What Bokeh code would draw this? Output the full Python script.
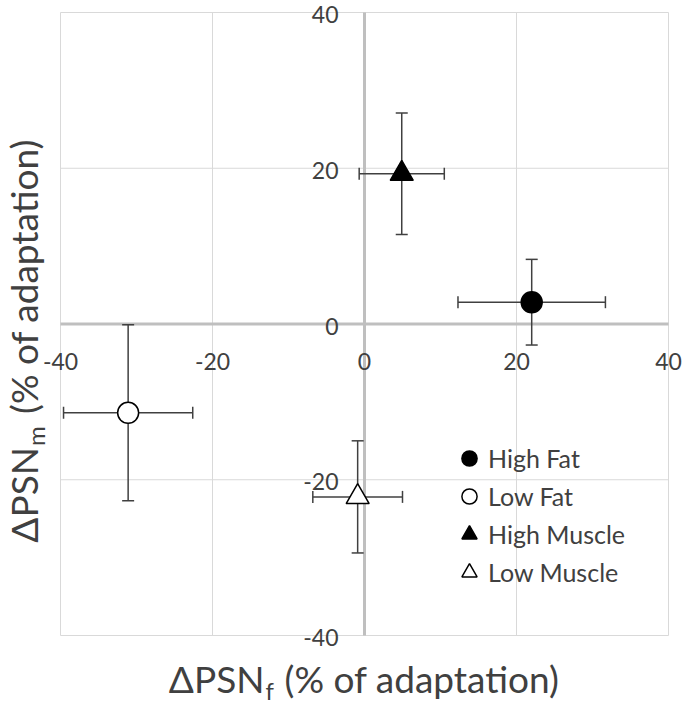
import math
from bokeh.plotting import figure
from bokeh.models import (ColumnDataSource, Whisker, TeeHead, LabelSet, Legend, LegendItem, Range1d)
from bokeh.core.properties import value
from bokeh.embed import file_html
from bokeh.resources import INLINE

# ---------------- data ----------------
groups = ["High Fat", "Low Fat", "High Muscle", "Low Muscle"]
x_vals = [22.0, -31.1, 4.9, -0.9]      # ΔPSN_f
x_errs = [9.7, 8.5, 5.6, 5.9]
y_vals = [2.8, -11.4, 19.3, -22.2]     # ΔPSN_m
y_errs = [5.5, 11.3, 7.8, 7.2]
markers = ["circle", "circle", "triangle", "triangle"]
fills = ["black", "white", "black", "white"]
x_ticks = [-40, -20, 0, 20, 40]
y_ticks = [-40, -20, 0, 20, 40]
x_title = ["ΔPSN", "f", "(% of adaptation)"]
y_title = ["ΔPSN", "m", "(% of adaptation)"]

FONT = "Lato"
TEXT = "#404040"
ERR = "#404040"
GRID = "#d9d9d9"
ZERO = "#bfbfbf"

# ---------------- layout (pixels) ----------------
W, H = 685, 709
PL, PR, PT, PB = 60, 668, 12, 635           # plot-area box in canvas pixels
LO, HI = x_ticks[0], x_ticks[-1]
LO_Y, HI_Y = y_ticks[0], y_ticks[-1]
kx = (PR - PL) / (HI - LO)
ky = (PB - PT) / (HI_Y - LO_Y)
x_range = Range1d(LO - PL / kx, HI + (W - PR) / kx)
y_range = Range1d(LO_Y - (H - PB) / ky, HI_Y + PT / ky)

p = figure(width=W, height=H, x_range=x_range, y_range=y_range,
           x_axis_location=None, y_axis_location=None,
           min_border=0, output_backend="svg", toolbar_location=None)
p.background_fill_color = "white"
p.border_fill_color = "white"
p.outline_line_color = None
p.grid.visible = False

# plot-area grid and box
nx, ny = len(x_ticks), len(y_ticks)
p.segment(x0=x_ticks, y0=[LO_Y] * nx, x1=x_ticks, y1=[HI_Y] * nx,
          line_color=GRID, line_width=1, level="underlay")
p.segment(x0=[LO] * ny, y0=y_ticks, x1=[HI] * ny, y1=y_ticks,
          line_color=GRID, line_width=1, level="underlay")
# zero lines (axes)
p.segment(x0=[0], y0=[LO_Y], x1=[0], y1=[HI_Y], line_color=ZERO, line_width=3, level="underlay")
p.segment(x0=[LO], y0=[0], x1=[HI], y1=[0], line_color=ZERO, line_width=3, level="underlay")

src = ColumnDataSource(dict(
    x=x_vals, y=y_vals,
    xl=[v - e for v, e in zip(x_vals, x_errs)], xu=[v + e for v, e in zip(x_vals, x_errs)],
    yl=[v - e for v, e in zip(y_vals, y_errs)], yu=[v + e for v, e in zip(y_vals, y_errs)],
))


def head():
    return TeeHead(size=12, line_color=ERR, line_width=1.5)


p.add_layout(Whisker(source=src, base="y", lower="xl", upper="xu", dimension="width",
                     line_color=ERR, line_width=1.5, upper_head=head(), lower_head=head(),
                     level="underlay"))
p.add_layout(Whisker(source=src, base="x", lower="yl", upper="yu", dimension="height",
                     line_color=ERR, line_width=1.5, upper_head=head(), lower_head=head(),
                     level="underlay"))

items = []
for i, g in enumerate(groups):
    size = 21 if markers[i] == "circle" else 23
    r = p.scatter(x=[x_vals[i]], y=[y_vals[i]], marker=markers[i], size=size,
                  fill_color=fills[i], line_color="black", line_width=1.5)
    items.append(LegendItem(label=g, renderers=[r]))

legend = Legend(items=items, location=(450, 118), glyph_width=38, glyph_height=38,
                label_standoff=0, spacing=0, padding=0, margin=0,
                border_line_color=None, background_fill_alpha=0,
                label_text_font=FONT, label_text_font_size="25px", label_text_color=TEXT)
p.add_layout(legend)

# tick labels near the zero lines
xt = ColumnDataSource(dict(x=x_ticks, y=[0] * nx, t=[str(v) for v in x_ticks]))
p.add_layout(LabelSet(x="x", y="y", text="t", source=xt, y_offset=-37,
                      text_align="center", text_baseline="middle",
                      text_font=value(FONT), text_font_size=value("23px"), text_color=TEXT))
yt = ColumnDataSource(dict(x=[0] * ny, y=y_ticks, t=[str(v) for v in y_ticks]))
p.add_layout(LabelSet(x="x", y="y", text="t", source=yt, x_offset=-26, y_offset=-2,
                      text_align="right", text_baseline="middle",
                      text_font=value(FONT), text_font_size=value("23px"), text_color=TEXT))


# axis titles (with subscripts), anchored to data positions
def piece(text, x, y, dx, dy, size, align, angle=0.0):
    s = ColumnDataSource(dict(x=[x], y=[y], t=[text]))
    p.add_layout(LabelSet(x="x", y="y", text="t", source=s, x_offset=dx, y_offset=dy,
                          angle=angle, text_align=align, text_baseline="alphabetic",
                          text_font=value(FONT), text_font_size=value(size), text_color=TEXT))


TS = "37px"
SS = "24px"
piece(x_title[0], 0, LO_Y, -100, -57, TS, "right")
piece(x_title[1], 0, LO_Y, -99, -64, SS, "left")
piece(x_title[2], 0, LO_Y, -80, -57, TS, "left")

A = math.pi / 2
piece(y_title[0], LO, 0, -23, -123, TS, "right", A)
piece(y_title[1], LO, 0, -16, -122, SS, "left", A)
piece(y_title[2], LO, 0, -23, -90, TS, "left", A)

open("out.html", "w").write(file_html(p, INLINE))
